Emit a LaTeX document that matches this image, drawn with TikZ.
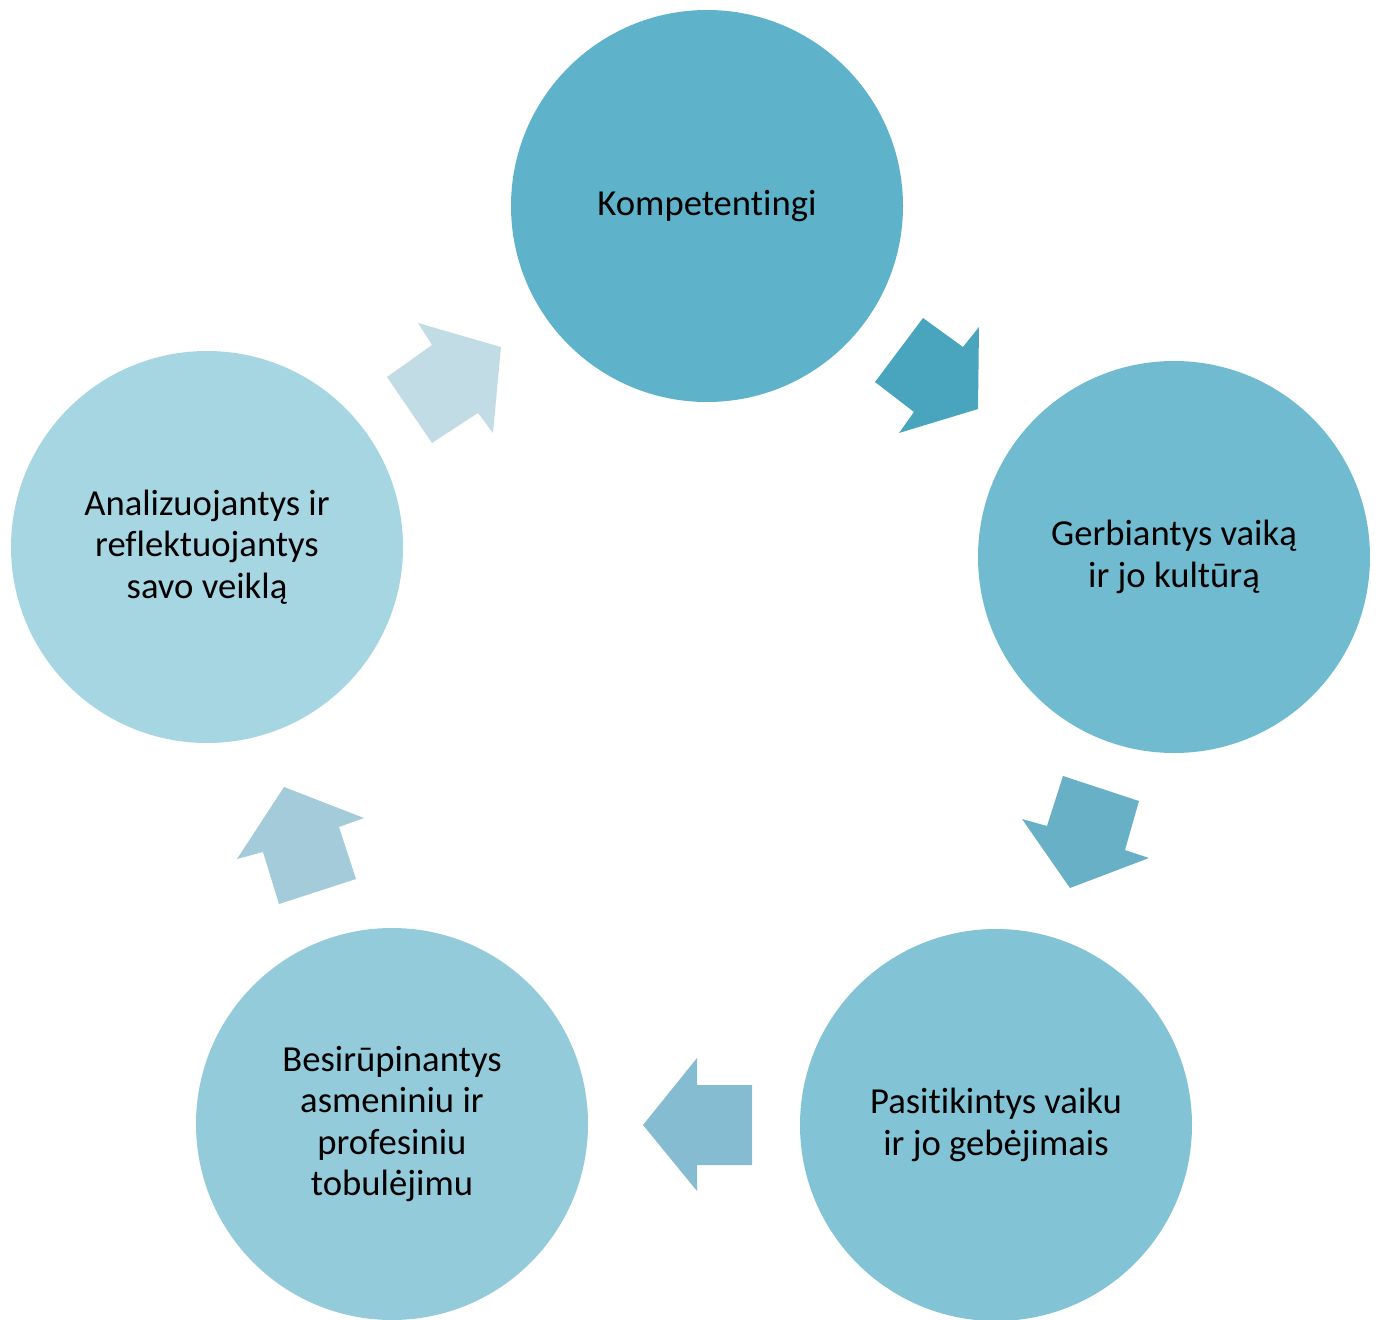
\documentclass[tikz,border=0pt]{standalone}
\usepackage{fontspec}
\setmainfont{Carlito}[Ligatures={NoCommon}]
\definecolor{cA}{HTML}{5EB3CA}
\definecolor{cB}{HTML}{70BBCF}
\definecolor{cC}{HTML}{82C3D5}
\definecolor{cD}{HTML}{94CBDB}
\definecolor{cE}{HTML}{A7D6E3}
\definecolor{aA}{HTML}{48A5BD}
\definecolor{aB}{HTML}{68B0C6}
\definecolor{aC}{HTML}{86BCD1}
\definecolor{aD}{HTML}{A4CBDA}
\definecolor{aE}{HTML}{C2DCE6}
\begin{document}
\begin{tikzpicture}[x=0.75pt,y=-0.75pt,
  bubble/.style={circle,minimum size=294pt,inner sep=0pt,align=center,
    font=\fontsize{27.5}{31}\selectfont,text=black}]
\useasboundingbox (0,0) rectangle (1382,1320);
\node[bubble,fill=cA] (k) at (707,206) {Kompetentingi};
\node[bubble,fill=cB] (g) at (1174,557) {Gerbiantys vaiką\\ir jo kultūrą};
\node[bubble,fill=cC] (p) at (996,1125) {Pasitikintys vaiku\\ir jo gebėjimais};
\node[bubble,fill=cD] (b) at (392,1124) {Besirūpinantys\\asmeniniu ir\\profesiniu\\tobulėjimu};
\node[bubble,fill=cE] (a) at (207,547) {Analizuojantys ir\\reflektuojantys\\savo veiklą};
\fill[aA] (923,318) -- (963,347) -- (979,327) -- (978,409) -- (899,433) -- (914,412) -- (875,382) -- cycle;
\fill[aB] (1063,776) -- (1139,801) -- (1125,850) -- (1149,858) -- (1070,888) -- (1022,819) -- (1047,826) -- cycle;
\fill[aC] (697,1058) -- (697,1085) -- (752,1085) -- (752,1165) -- (697,1165) -- (697,1191) -- (643,1125) -- cycle;
\fill[aD] (284,787) -- (364,818) -- (339,827) -- (356,879) -- (279,904) -- (263,852) -- (237,859) -- cycle;
\fill[aE] (418,323) -- (501,347) -- (493,433) -- (478,413) -- (432,443) -- (387,377) -- (432,345) -- cycle;
\end{tikzpicture}
\end{document}
